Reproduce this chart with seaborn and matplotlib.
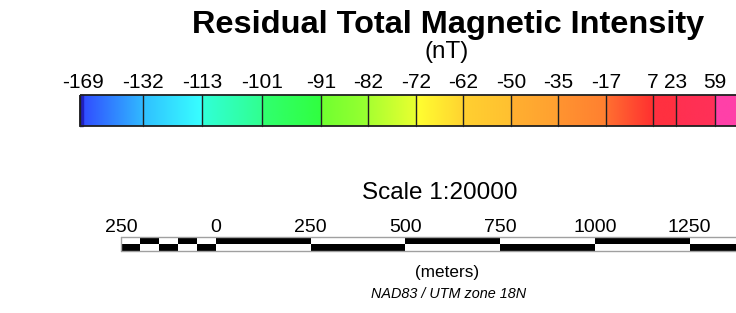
import numpy as np
import matplotlib
matplotlib.use("Agg")
import matplotlib.pyplot as plt
from matplotlib.colors import LinearSegmentedColormap
from matplotlib.patches import Rectangle
import seaborn as sns

# legend values
cbar_labels = ["-169", "-132", "-113", "-101", "-91", "-82", "-72", "-62",
               "-50", "-35", "-17", "7", "23", "59"]
# colour at start / end of each class
seg_start = ["#3048ff", "#30c0ff", "#30ffd8", "#30ff70", "#70ff30", "#a8ff30",
             "#ffff30", "#ffd030", "#ffb030", "#ff9430", "#ff7030", "#ff3040",
             "#ff3050", "#ff40a8"]
seg_end = ["#30b8ff", "#38ffff", "#30ff90", "#30ff40", "#98ff30", "#e8ff30",
           "#ffd430", "#ffc030", "#ffa030", "#ff8030", "#ff3030", "#ff3040",
           "#ff3058", "#ff40a8"]

scale_labels = [250, 0, 250, 500, 750, 1000, 1250]
scale_dist = [-250, 0, 250, 500, 750, 1000, 1250]

# layout (pixel coordinates)
cbar_edges_px = [80, 143, 202, 262, 321, 368, 416, 463, 511, 558, 606, 653, 676, 715, 760]
cbar_top, cbar_bot = 95, 126
sb_x0, sb_px_per_m = 216, 94.7 / 250
sb_top, sb_mid, sb_bot = 237, 244, 251

sns.set_theme(style="white")
plt.rcParams['font.family'] = ['Liberation Sans', 'DejaVu Sans']

fig = plt.figure(figsize=(7.36, 3.13), dpi=100)
ax = fig.add_axes([0, 0, 1, 1])

# title
ax.text(448, 33, "Residual Total Magnetic Intensity", ha='center', va='baseline',
        fontsize=23.4, fontweight='bold', color='black')
ax.text(447, 58, "(nT)", ha='center', va='baseline', fontsize=17.5, color='black')

# colour bar
grad = np.linspace(0, 1, 64).reshape(1, -1)
for i, lab in enumerate(cbar_labels):
    x0, x1 = cbar_edges_px[i], cbar_edges_px[i + 1]
    cm = LinearSegmentedColormap.from_list(f"s{i}", [seg_start[i], seg_end[i]])
    ax.imshow(grad, cmap=cm, aspect='auto', extent=[x0, x1, cbar_bot, cbar_top],
              interpolation='bilinear', zorder=1)
    ax.plot([x0, x0], [cbar_top, cbar_bot], color='#202020', lw=1, zorder=2)
    ax.text(x0 + (3 if i == 0 else 0), 88, lab, ha='center', va='baseline',
            fontsize=15, color='black')
# thin dark blue start
ax.add_patch(Rectangle((80, cbar_top), 3, cbar_bot - cbar_top, color='#2020c0', zorder=1.5))
ax.add_patch(Rectangle((80, cbar_top), 700, cbar_bot - cbar_top, fill=False,
                       ec='#202020', lw=1.3, zorder=3))

# scale
ax.text(440, 199, "Scale 1:20000", ha='center', va='baseline', fontsize=17.5, color='black')

# scale bar blocks: fine divisions left of 0, 250 m blocks to the right
h = sb_mid - sb_top
for k in range(5):
    d0 = -250 + 50 * k
    xa = sb_x0 + d0 * sb_px_per_m
    w = 50 * sb_px_per_m
    top_black = k % 2 == 1
    ax.add_patch(Rectangle((xa, sb_top), w, h, color='black' if top_black else 'white', lw=0))
    ax.add_patch(Rectangle((xa, sb_mid), w, h, color='white' if top_black else 'black', lw=0))
for k in range(6):
    d0 = 250 * k
    xa = sb_x0 + d0 * sb_px_per_m
    w = 250 * sb_px_per_m
    top_black = k % 2 == 0
    ax.add_patch(Rectangle((xa, sb_top), w, h, color='black' if top_black else 'white', lw=0))
    ax.add_patch(Rectangle((xa, sb_mid), w, h, color='white' if top_black else 'black', lw=0))
x_left = sb_x0 - 250 * sb_px_per_m
ax.plot([x_left, 760], [sb_top, sb_top], color='#a0a0a0', lw=1)
ax.plot([x_left, 760], [sb_bot, sb_bot], color='#a0a0a0', lw=1)
ax.plot([x_left, x_left], [sb_top, sb_bot], color='#a0a0a0', lw=1)

for lab, d in zip(scale_labels, scale_dist):
    ax.text(sb_x0 + d * sb_px_per_m, 232, str(lab), ha='center', va='baseline',
            fontsize=14, color='black')

ax.text(447, 277, "(meters)", ha='center', va='baseline', fontsize=12.3, color='black')
ax.text(449, 298, "NAD83 / UTM zone 18N", ha='center', va='baseline', fontsize=10.4,
        fontstyle='italic', color='black')

ax.set_xlim(0, 736)
ax.set_ylim(313, 0)
ax.axis('off')
fig.savefig("out.png", dpi=100)
